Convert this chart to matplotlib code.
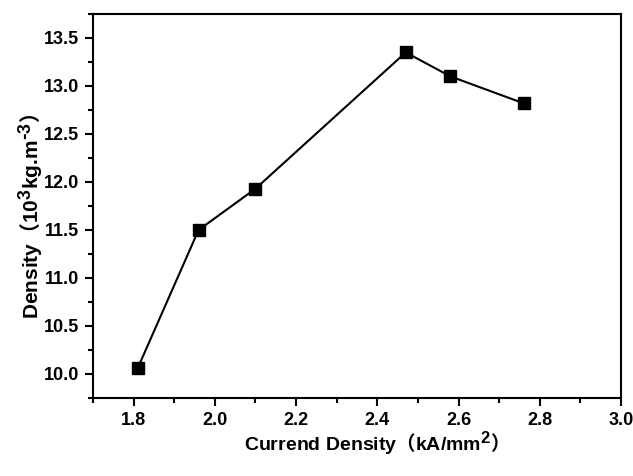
import matplotlib
matplotlib.use("Agg")
import matplotlib.pyplot as plt
from matplotlib.ticker import MultipleLocator
import matplotlib._mathtext as _mt

# larger superscripts, as in the reference
_mt.SHRINK_FACTOR = 0.85

current_density = [1.81, 1.96, 2.10, 2.47, 2.58, 2.76]
density = [10.06, 11.50, 11.93, 13.35, 13.10, 12.82]

x_ticks = [1.8, 2.0, 2.2, 2.4, 2.6, 2.8, 3.0]
y_ticks = [10.0, 10.5, 11.0, 11.5, 12.0, 12.5, 13.0, 13.5]

plt.rcParams['font.family'] = ['Liberation Sans', 'Noto Sans CJK SC']
plt.rcParams['font.weight'] = 'bold'
plt.rcParams['mathtext.fontset'] = 'custom'
plt.rcParams['mathtext.rm'] = 'Noto Sans CJK SC:bold'
plt.rcParams['mathtext.bf'] = 'Liberation Sans:bold'
plt.rcParams['mathtext.it'] = 'Liberation Sans:bold'
plt.rcParams['mathtext.sf'] = 'Liberation Sans:bold'
plt.rcParams['mathtext.default'] = 'bf'

fig = plt.figure(figsize=(6.33, 4.76), dpi=100)
ax = fig.add_axes([93/633, 1 - 398/476, (621 - 93)/633, (398 - 14)/476])

ax.plot(current_density, density, color='black', linewidth=1.5,
        marker='s', markersize=8, markerfacecolor='black', markeredgecolor='black')

ax.set_xlim(1.7, 3.0)
ax.set_ylim(9.75, 13.75)
ax.set_xticks(x_ticks)
ax.set_xticklabels([f"{v:.1f}" for v in x_ticks])
ax.set_yticks(y_ticks)
ax.set_yticklabels([f"{v:.1f}" for v in y_ticks])
ax.xaxis.set_minor_locator(MultipleLocator(0.1))
ax.yaxis.set_minor_locator(MultipleLocator(0.25))

for s in ax.spines.values():
    s.set_linewidth(1.5)

ax.tick_params(which='major', direction='out', length=6, width=1.5, labelsize=13, pad=4)
ax.tick_params(which='minor', direction='out', length=3.5, width=1.5)
for lab in ax.get_xticklabels() + ax.get_yticklabels():
    lab.set_fontweight('bold')

ax.set_xlabel(r'Currend Density$\mathrm{（}$kA/mm$^{2}$$\mathrm{）}$', fontsize=14, fontweight='bold')
ax.set_ylabel(r'Density$\mathrm{（}$10$^{3}$kg.m$^{\text{-}3}$$\mathrm{）}$', fontsize=15, fontweight='bold')
ax.xaxis.set_label_coords(0.528, -0.08)
ax.yaxis.set_label_coords(-0.089, 0.474)

fig.savefig('out.png', dpi=100)
